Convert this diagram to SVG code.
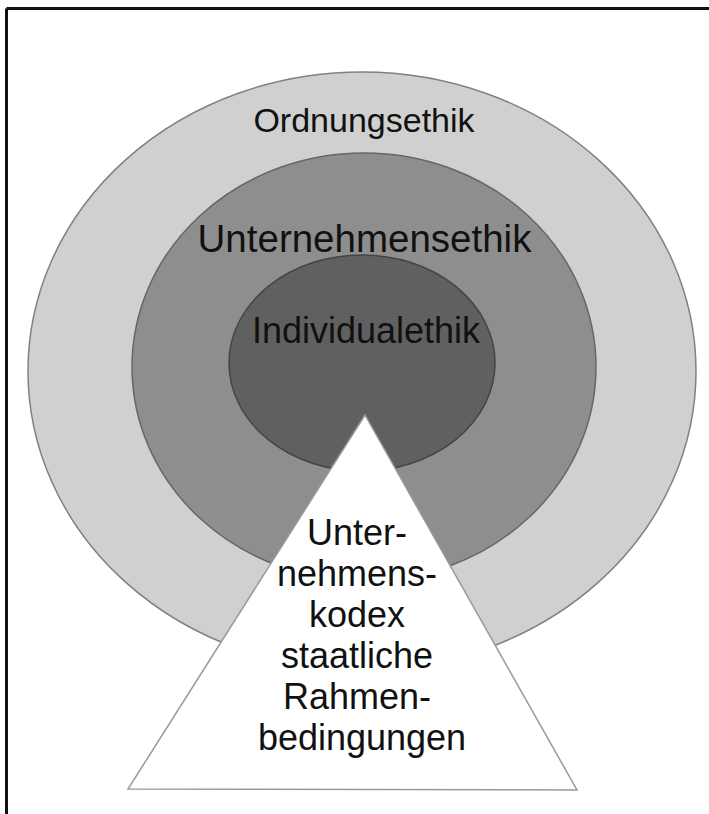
<svg xmlns="http://www.w3.org/2000/svg" width="709" height="814" viewBox="0 0 709 814">
<style>
.t{font-family:"Liberation Sans",Arial,sans-serif;fill:#111;text-anchor:middle}
</style>
<rect x="0" y="0" width="709" height="814" fill="#fff"/>
<g id="frame" stroke="#111" stroke-width="3" fill="none">
<line x1="6.5" y1="8.5" x2="709" y2="8.5"/>
<line x1="6.5" y1="8.5" x2="6.5" y2="814"/>
</g>
<g id="ordnungsethik">
<ellipse cx="362" cy="371" rx="334" ry="299" fill="#d0d0d0" stroke="#808080" stroke-width="1.5"/>
<text class="t" x="364" y="132" font-size="34">Ordnungsethik</text>
</g>
<g id="unternehmensethik">
<ellipse cx="364" cy="367" rx="232" ry="214" fill="#8e8e8e" stroke="#666" stroke-width="1.5"/>
<text class="t" x="364.5" y="252" font-size="38.5">Unternehmensethik</text>
</g>
<g id="individualethik">
<ellipse cx="362" cy="363" rx="133" ry="108" fill="#606060" stroke="#444" stroke-width="1.5"/>
<text class="t" x="366" y="343" font-size="36">Individualethik</text>
</g>
<g id="pyramid">
<polygon points="365,415 577,790 128,789" fill="#fff" stroke="#999" stroke-width="1.5"/>
<text class="t" x="362" font-size="36">
<tspan x="362" y="545">Unter-</tspan>
<tspan x="362" y="586">nehmens-</tspan>
<tspan x="362" y="627">kodex</tspan>
<tspan x="362" y="668">staatliche</tspan>
<tspan x="362" y="709">Rahmen-</tspan>
<tspan x="362" y="750">bedingungen</tspan>
</text>
</g>
</svg>
